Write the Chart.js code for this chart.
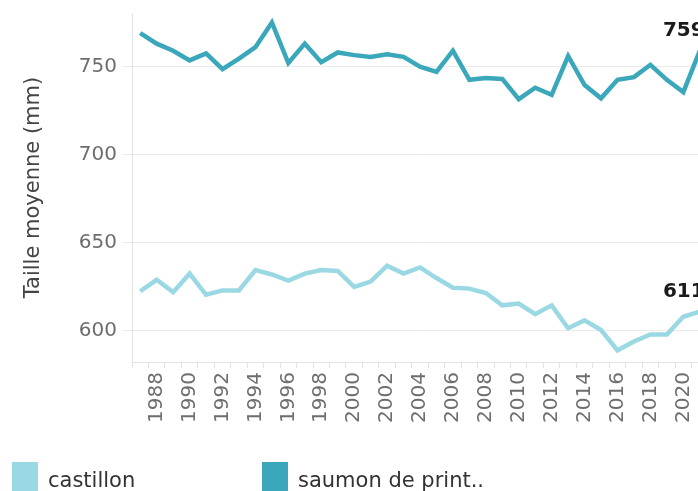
<!DOCTYPE html>
<html>
<head>
<meta charset="utf-8">
<script src="https://cdn.jsdelivr.net/npm/chart.js@4/dist/chart.umd.min.js"></script>
<style>
  html, body { margin: 0; padding: 0; background: #fff; overflow: hidden; }
  #wrap { position: relative; width: 740px; height: 491px; }
  #legend { position: absolute; left: 12px; top: 462px; display: flex; font-family: "DejaVu Sans", sans-serif; font-size: 21px; color: #333; }
  .item { width: 250px; display: flex; align-items: flex-start; }
  .sw { width: 26px; height: 30px; flex: none; }
  .lt { margin-left: 10px; line-height: 30px; white-space: nowrap; position: relative; top: 3px; }
</style>
</head>
<body>
<div id="wrap">
  <canvas id="c" width="740" height="491"></canvas>
  <div id="legend"></div>
</div>
<script>
const years = [1987,1988,1989,1990,1991,1992,1993,1994,1995,1996,1997,1998,1999,2000,2001,2002,2003,2004,2005,2006,2007,2008,2009,2010,2011,2012,2013,2014,2015,2016,2017,2018,2019,2020,2021];
const tickLabelYears = [1988,1990,1992,1994,1996,1998,2000,2002,2004,2006,2008,2010,2012,2014,2016,2018,2020];
const yTicks = [600, 650, 700, 750];
const seriesNames = ["castillon", "saumon de print.."];
const castillon = [622.5,629,622,632.5,620.5,623,623,634.5,632,628.5,632.5,634.5,634,625,628,637,632.5,636,630,624.5,624,621.5,614.5,615.5,609.5,614.5,601.5,606,600.5,589,594,598,598,608,611];
const saumon = [769,763,759,753.5,757.5,748.5,754.5,761,775,752,763,752.5,758,756.5,755.5,757,755.5,750,747,759,742.5,743.5,743,731.5,738,734,756,739.5,732,742.5,744,751,742.5,735.5,759];
const yMin = 582.3, yMax = 780.4;

const FONT = '"DejaVu Sans", sans-serif';

const endLabels = {
  id: 'endLabels',
  afterDatasetsDraw(chart) {
    const ctx = chart.ctx;
    ctx.save();
    ctx.font = 'bold 20px ' + FONT;
    ctx.fillStyle = '#1a1a1a';
    ctx.textAlign = 'center';
    ctx.textBaseline = 'middle';
    chart.data.datasets.forEach((ds, i) => {
      const meta = chart.getDatasetMeta(i);
      const n = ds.data.length - 1;
      const pt = meta.data[n];
      ctx.fillText(String(Math.round(ds.data[n])), pt.x - 16, pt.y - 20);
    });
    ctx.restore();
  }
};

const htmlLegend = {
  id: 'htmlLegend',
  afterUpdate(chart) {
    const box = document.getElementById('legend');
    box.innerHTML = '';
    const items = Chart.defaults.plugins.legend.labels.generateLabels(chart);
    items.forEach(it => {
      const d = document.createElement('div'); d.className = 'item';
      const s = document.createElement('span'); s.className = 'sw'; s.style.background = it.strokeStyle;
      const t = document.createElement('span'); t.className = 'lt'; t.textContent = it.text;
      d.appendChild(s); d.appendChild(t); box.appendChild(d);
    });
  }
};

new Chart(document.getElementById('c'), {
  type: 'line',
  data: {
    labels: years.map(String),
    datasets: [
      { label: seriesNames[0], data: castillon, borderColor: '#9ad9e3', backgroundColor: '#9ad9e3', borderWidth: 4.5, pointRadius: 0, tension: 0 },
      { label: seriesNames[1], data: saumon, borderColor: '#3aa7ba', backgroundColor: '#3aa7ba', borderWidth: 4.5, pointRadius: 0, tension: 0 }
    ]
  },
  options: {
    responsive: false,
    animation: false,
    layout: { padding: { top: 13, right: 32, bottom: 64, left: 0 } },
    plugins: { legend: { display: false }, tooltip: { enabled: false } },
    scales: {
      x: {
        type: 'category',
        offset: true,
        grid: { offset: true, drawOnChartArea: false, drawTicks: true, tickLength: 6, color: '#e3e3e3' },
        border: { display: true, color: '#e3e3e3' },
        ticks: {
          autoSkip: false, maxRotation: 90, minRotation: 90, padding: 4,
          color: '#6e6e6e', font: { family: FONT, size: 20 },
          callback: (v, i) => tickLabelYears.includes(years[i]) ? String(years[i]) : ''
        }
      },
      y: {
        min: yMin, max: yMax,
        afterBuildTicks: s => { s.ticks = yTicks.map(v => ({ value: v })); },
        afterFit: s => { s.width = 132; s.paddingTop = 0; s.paddingBottom = 0; },
        grid: { color: '#ebebeb', tickLength: 10 },
        border: { display: true, color: '#e3e3e3' },
        ticks: { padding: 5, color: '#6e6e6e', font: { family: FONT, size: 20 } },
        title: { display: true, text: 'Taille moyenne (mm)', color: '#444', font: { family: FONT, size: 21 }, padding: { top: 21, bottom: 0 } }
      }
    }
  },
  plugins: [endLabels, htmlLegend]
});
</script>
</body>
</html>
